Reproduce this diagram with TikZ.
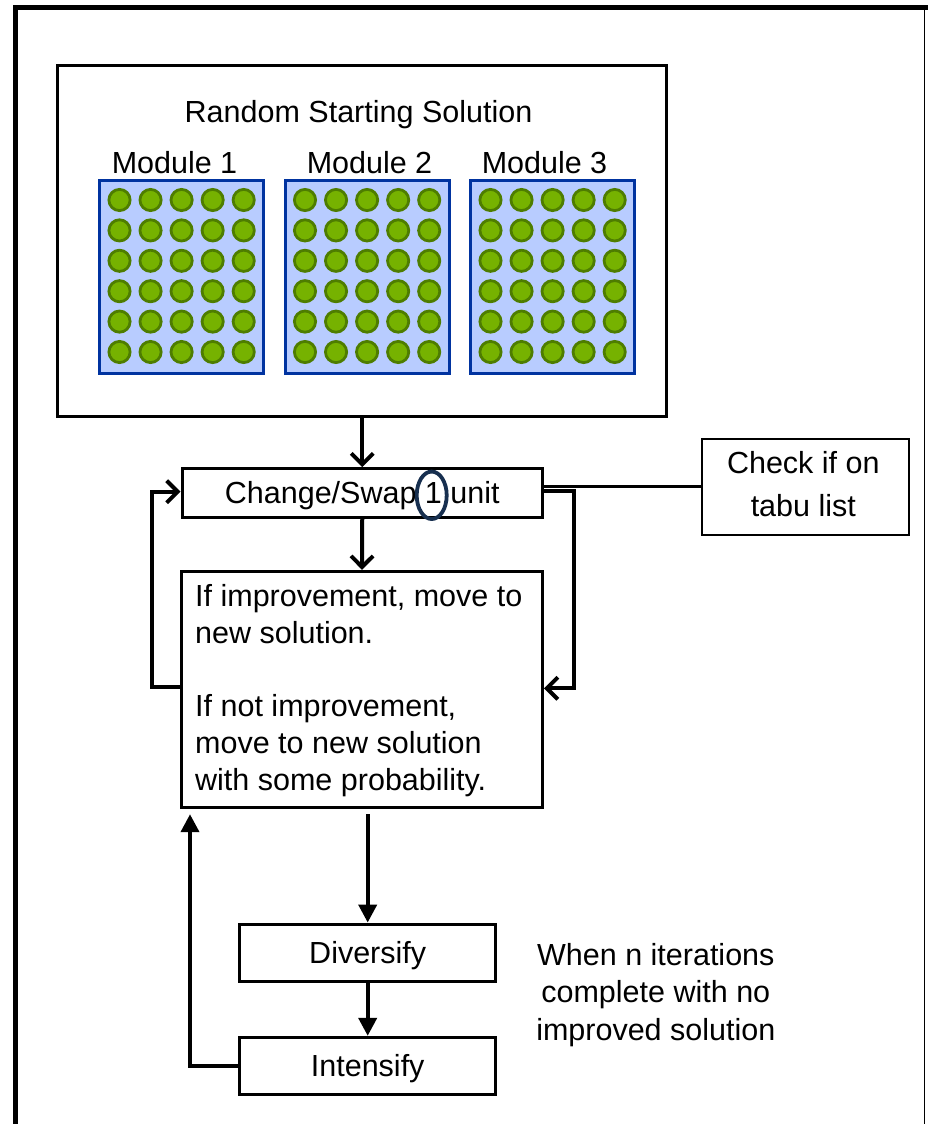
\documentclass[tikz,border=0pt]{standalone}
\usepackage{fontspec}
\setmainfont{Liberation Sans}
\usetikzlibrary{arrows.meta,calc,shapes.geometric}
\definecolor{modfill}{RGB}{184,204,255}
\definecolor{modline}{RGB}{0,51,160}
\definecolor{dotfill}{RGB}{118,178,0}
\definecolor{dotline}{RGB}{78,125,0}
\definecolor{ovalline}{RGB}{23,47,79}
\begin{document}
\begin{tikzpicture}[x=1pt,y=-1pt,
  fs/.style={font=\fontsize{30.5}{36.7}\selectfont, inner sep=0pt},
  box/.style={draw=black, line width=3pt, inner sep=0pt, fill=white},
  capbox/.style={box, fs, text height=21.8pt, text depth=0pt},
  modbox/.style={draw=modline, fill=modfill, line width=3pt, inner sep=0pt, minimum width=164pt, minimum height=193.7pt},
  dot/.style={circle, draw=dotline, fill=dotfill, line width=2.8pt, minimum size=21.2pt, inner sep=0pt},
  conn/.style={line width=4pt},
  barb/.style={-{Straight Barb[length=11pt,width=22pt]}},
  tri/.style={-{Triangle[length=18pt,width=18pt]}}
]
\useasboundingbox (0,0) rectangle (927,1124);
% outer frame
\draw[line width=5pt] (15.5,1130) -- (15.5,7.5) -- (930,7.5);
\draw[line width=1.5pt] (924.5,7.5) -- (924.5,1130);

% top box
\node[box, minimum width=608.3pt, minimum height=350pt] (top) at (361.85,241) {};
\node[fs, anchor=base] (title) at (358.5,122.7) {Random Starting Solution};

% modules
\foreach \i/\dx/\lx in {1/0/174.5, 2/185.5/369.5, 3/371/544.5} {
  \node[modbox] (m\i) at ({181.6+\dx},276.85) {};
  \node[fs, anchor=base] (ml\i) at (\lx,173.3) {Module \i};
  \foreach \c in {0,...,4} {
    \foreach \r in {0,...,5} {
      \node[dot] (d\i-\c-\r) at ({119.5+31.05*\c+\dx},{200+30.4*\r}) {};
    }
  }
}

% change box
\node[capbox, minimum width=360.5pt, minimum height=48.6pt] (chg) at (362.25,493) {Change/Swap 1 unit};
\node[ellipse, draw=ovalline, line width=3.8pt, minimum width=30pt, minimum height=47.5pt, inner sep=0pt] (oval) at (431.7,495.3) {};

% improvement box
\node[box, minimum width=361pt, minimum height=236.4pt] (imp) at (362,689.5) {};
\node[fs, anchor=base west, align=left] (imptext) at (195,790)
  {If improvement, move to\\new solution.\\[36.7pt]If not improvement,\\move to new solution\\with some probability.};

% check box
\node[draw=black, line width=2pt, minimum width=207.3pt, minimum height=96.2pt, inner sep=0pt] (check) at (805.65,486.9) {};
\node[fs, anchor=base, align=center] (checktext) at (803.3,516.7) {Check if on\\[6.7pt]tabu list};

% diversify / intensify
\node[capbox, minimum width=256pt, minimum height=57.3pt] (div) at (367.7,952.7) {Diversify};
\node[capbox, minimum width=256pt, minimum height=56.7pt] (int) at (367.7,1065.7) {Intensify};

% side note
\node[fs, anchor=base, align=center] (when) at (655.8,1040)
  {When n iterations\\[0.8pt]complete with no\\[0.8pt]improved solution};

% connectors
\draw[conn, barb] (top.south -| chg.north) -- (chg.north);
\draw[conn, barb] (chg.south) -- (imp.north);
\draw[conn, barb] ([yshift=3pt]imp.west) -- ++(-28.5,0) |- ([yshift=1.3pt]chg.west);
\draw[conn, barb] ([yshift=2pt]chg.east) -- ++(29.5,0) |- ([yshift=1.2pt]imp.east);
\draw[line width=3pt] (chg.east |- check.west) -- (check.west);
\draw[conn, tri, shorten <=5pt] (imp.south -| div.north) -- (div.north);
\draw[conn, tri] (div.south) -- (int.north);
\draw[conn, tri, shorten >=5pt] (int.west) -| ([xshift=-172pt]imp.south);
\end{tikzpicture}
\end{document}
